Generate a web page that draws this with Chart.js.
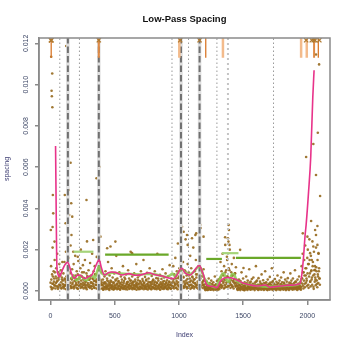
<!DOCTYPE html>
<html><head><meta charset="utf-8">
<script src="https://cdn.jsdelivr.net/npm/chart.js@4.4.1/dist/chart.umd.min.js"></script>
<style>html,body{margin:0;padding:0;background:#fff}</style>
</head><body><canvas id="c" width="350" height="350"></canvas>
<script>
// ---------- data (spacing values in units of 1e-5) ----------
const UNIT = 1e-5;
const X_MIN = -90, X_MAX = 2177, Y_MIN = -0.00044, Y_MAX = 0.01226;
const xTicks = [0, 500, 1000, 1500, 2000];
const yTicks = [0, 0.002, 0.004, 0.006, 0.008, 0.010, 0.012];
const bandStep = 4;      // index spacing of the band values
const bandOffsetB = 2;   // second band series sits between the first
const bandValues = [
40,120,15,80,210,35,95,60,150,25,70,110,45,180,20,90,55,130,30,75,100,12,65,140,50,
85,20,140,55,30,190,70,10,115,45,160,35,90,25,220,60,15,105,40,75,130,20,65,170,50,30,95,12,80,145,40,60,25,110,200,35,70,18,125,55,90,28,150,45,15,85,240,30,65,100,20,55,135,40,75,22,180,60,35,95,15,120,50,80,30,165,45,10,105,70,25,140,55,90,35,
30,12,55,8,40,70,20,95,35,15,60,25,140,45,10,75,30,50,18,110,
22,65,40,8,85,28,15,50,170,35,60,12,45,25,90,38,10,70,20,55,
30,120,15,48,65,25,8,80,35,42,18,100,28,60,12,50,190,22,38,70,
15,45,30,85,10,55,25,130,40,18,65,32,8,75,48,20,95,35,12,58,
28,150,40,15,68,22,50,10,88,35,25,60,18,110,42,30,8,72,45,20,
55,15,38,95,28,12,62,40,180,22,50,30,10,78,35,18,58,26,105,45,
14,65,32,20,85,40,10,52,28,70,18,44,125,30,12,60,36,22,
45,120,20,80,35,160,60,15,95,40,230,25,70,110,30,55,190,12,85,45,
140,65,20,100,35,250,50,75,18,130,40,90,25,60,170,30,110,15,70,45,
210,55,20,95,38,150,65,28,80,12,120,48,35,180,60,22,90,40,70,30,105,50,
20,8,35,12,45,5,28,15,60,10,38,22,6,50,18,30,9,42,25,12,70,15,32,8,48,20,10,55,25,40,
60,140,30,95,20,180,75,45,120,15,260,55,100,35,150,70,25,110,45,200,60,30,90,130,20,75,50,160,40,85,25,115,55,
25,8,40,15,55,30,10,48,20,90,35,12,60,22,5,42,28,15,70,38,
10,50,25,18,105,32,8,45,20,58,14,35,65,22,10,40,28,120,15,50,
30,8,62,25,18,45,35,12,80,28,20,52,10,38,24,95,15,42,30,6,
55,22,34,12,68,40,18,28,110,10,48,25,36,15,58,20,8,44,30,75,
14,38,22,50,10,32,65,18,42,26,12,90,35,20,55,8,30,45,16,62,
24,10,40,28,85,18,50,32,12,60,22,38,15,100,30,45,20,10,55,35,
18,70,25,42,12,
40,120,60,180,25,90,150,35,220,75,110,50,160,200,30,130,250,85,45,170,
100,65,240,140,20,190,80,120,55,210,95,35,150,70,180,110,60
];
const bandValuesB = [
20,55,8,35,70,15,45,28,90,12,38,60,22,48,10,65,30,18,80,25,42,14,55,33,20,
30,12,60,25,45,8,38,70,18,52,28,10,85,40,22,15,55,32,65,20,
12,48,26,75,38,16,58,30,10,44,24,68,35,14,50,20,90,28,40,12,
62,34,18,46,26,8,72,38,20,54,30,14,64,22,42,10,36,58,24,48,
16,80,30,44,12,56,26,38,20,66,34,10,50,28,42,
12,28,6,20,35,15,42,8,25,18,50,10,32,22,5,38,14,26,45,9,
30,18,7,40,22,12,55,16,28,8,35,20,48,11,24,6,32,18,42,14,
26,9,38,20,12,58,24,15,34,7,44,19,28,10,36,22,50,13,30,8,
40,16,25,11,46,20,33,6,27,15,52,12,36,21,9,42,18,30,14,48,
24,8,38,17,28,11,55,20,32,7,44,15,26,12,40,22,9,34,18,50,
14,30,10,45,20,26,8,38,16,60,12,28,22,6,42,18,32,11,36,24,
9,48,15,30,20,40,12,26,8,34,18,44,14,28,10,38,22,16,
20,55,12,40,28,70,15,48,32,8,62,25,42,18,85,30,10,52,36,22,
68,14,45,28,95,20,38,12,58,33,16,75,26,44,10,50,30,18,65,24,
40,12,56,35,20,80,28,15,46,38,10,60,22,34,18,72,26,42,14,50,30,20,
10,4,18,7,25,12,5,20,9,30,14,6,22,10,35,8,16,4,26,12,18,6,28,10,15,5,24,12,8,20,
30,65,15,48,25,80,38,12,55,28,90,20,42,70,18,35,60,25,100,40,15,52,30,75,22,45,12,58,35,85,20,40,28,
12,5,20,8,28,15,4,22,10,35,18,6,26,12,3,20,14,8,32,16,
5,24,11,18,40,14,6,22,10,30,8,17,28,12,4,20,15,45,9,25,
14,5,30,12,8,22,18,6,35,14,10,26,5,19,12,38,8,21,15,4,
28,11,17,6,32,20,9,14,42,5,24,12,18,8,30,10,4,22,15,36,
7,19,11,25,5,16,32,9,21,13,6,40,17,10,27,4,15,22,8,30,
12,5,20,14,38,9,25,16,6,30,11,19,8,44,15,22,10,5,27,17,
9,34,12,21,6,
20,60,35,90,12,50,75,18,110,40,60,25,85,130,15,70,150,45,22,95,55,30,120,75,10,100,45,65,28,115,50,18,80,38,95,60,30
];
const outlierIdx = [5,13,8,10,14,18,21,16,2,31,122,111,142,161,169,145,117,163,156,280,
358,381,332,389,177,212,441,505,467,635,1024,1037,1063,1068,1128,1166,1170,1192,1102,1135,
1361,1386,1374,1387,1390,1382,1394,1477,1503,1965,2001,2061,2079,2068,2079,2047,2022,2087,2035,2061,
2068,2092,2082,2047,1991,2100,2030,2068];
const outlierVal = [1135,1054,970,944,890,465,376,310,295,239,1187,465,489,425,360,368,328,271,621,441,
546,602,247,263,190,166,207,239,215,183,311,287,271,223,271,320,305,263,255,279,
223,239,166,320,295,255,223,199,111,279,263,295,315,271,223,215,183,183,150,102,
1146,1098,767,712,649,460,339,562];
// smoothed (pink) curve
const smoothIdx = [39,43,47,50,56,68,80,95,110,132,148,160,175,187,205,231,250,270,295,321,345,365,379,395,420,450,474,505,558,609,661,713,764,816,869,920,959,985,1005,1024,1040,1050,1089,1114,1140,1161,1178,1192,1205,1218,1245,1270,1296,1310,1322,1348,1375,1400,1425,1452,1480,1503,1550,1607,1640,1672,1711,1750,1790,1827,1865,1905,1930,1944,1957,1970,1983,1991,2010,2027,2043,2053];
const smoothVal = [702,450,200,110,85,69,82,105,125,139,118,90,68,61,74,77,66,61,70,77,110,140,150,115,77,88,92,90,77,84,76,79,88,78,72,63,60,77,100,110,95,86,77,93,115,123,100,77,45,29,23,21,16,28,45,61,65,64,60,53,44,37,30,24,26,29,18,21,24,26,28,29,33,37,77,158,270,320,480,650,940,1070];
// secondary (green) smooth
const altIdx = [160,180,200,220,240,262,285,305,325,345,360,380,400,430,480,530,600,700,800,900,930,950,970,1000,1024,1060,1100,1160,1200,1250,1290,1310,1330,1350,1370,1390,1410,1430,1450,1480,1550,1600,1650,1700,1800,1900,1940,1955];
const altVal = [60,72,52,60,74,56,52,70,74,62,90,120,85,80,88,85,82,80,82,68,75,85,70,95,105,85,85,118,60,25,20,45,75,85,55,45,78,80,50,40,30,25,22,20,24,27,35,60];
// level segments
const levelDarkStart = [425,1213,1444], levelDarkEnd = [920,1335,1950], levelDarkVal = [176,155,160];
const levelLightStart = [179,1335], levelLightEnd = [334,1464], levelLightVal = [190,183];
// vertical markers
const dashedIdx = [135,376,1016,1161];
const dottedIdx = [72,225,946,1075,1296,1737];
const dottedLightIdx = [1382];
// out-of-range arrows and crosses
const ARROW_END = 0.0113;
const arrowDarkIdx = [5,1209,2086];
const arrowMidIdx = [376,2053];
const arrowLightIdx = [1003,1343,1952,1996];
const CROSS_VAL = 0.01215;
const crossIdx = [3,5,7,376,1010,1161,1991,2035,2050,2061,2094];

// ---------- build datasets ----------
const pts = bandValues.map((v,i)=>({x:i*bandStep, y:v*UNIT}))
  .concat(bandValuesB.map((v,i)=>({x:i*bandStep+bandOffsetB, y:v*UNIT})))
  .concat(outlierIdx.map((x,i)=>({x, y:outlierVal[i]*UNIT})));
const datasets = [];
datasets.push({type:'scatter', data:pts, pointRadius:1.3, pointBorderWidth:0,
  pointBackgroundColor:'rgba(150,105,30,0.9)', order:20});
function vline(idx, color, width, dash, halo){
  if (halo) datasets.push({type:'line', data:[{x:idx,y:Y_MIN},{x:idx,y:Y_MAX}], borderColor:halo,
    borderWidth:width+1.5, pointRadius:0, order:16});
  datasets.push({type:'line', data:[{x:idx,y:Y_MIN},{x:idx,y:Y_MAX}], borderColor:color,
    borderWidth:width, borderDash:dash, pointRadius:0, order:15});
}
dottedIdx.forEach(i=>vline(i,'#9a9a9a',1,[1.5,2.5]));
dottedLightIdx.forEach(i=>vline(i,'#c4c4c4',2,[2,3]));
dashedIdx.forEach(i=>vline(i,'#707070',2,[6.5,3],'#dedede'));
datasets.push({type:'line', data:altIdx.map((x,i)=>({x,y:altVal[i]*UNIT})), borderColor:'rgba(140,200,80,0.85)',
  borderWidth:2.5, pointRadius:0, tension:0.4, order:8});
datasets.push({type:'line', data:smoothIdx.map((x,i)=>({x,y:smoothVal[i]*UNIT})), borderColor:'#e8338a',
  borderWidth:1.6, pointRadius:0, tension:0.4, cubicInterpolationMode:'monotone', order:6});
function hseg(a,b,v,color){
  datasets.push({type:'line', data:[{x:a,y:v*UNIT},{x:b,y:v*UNIT}], borderColor:color, borderWidth:2.2, pointRadius:0, order:5});
}
levelDarkStart.forEach((a,i)=>hseg(a,levelDarkEnd[i],levelDarkVal[i],'#6aa829'));
levelLightStart.forEach((a,i)=>hseg(a,levelLightEnd[i],levelLightVal[i],'#a6d47a'));
function arrow(idx,color,width){
  datasets.push({type:'line', data:[{x:idx,y:Y_MAX},{x:idx,y:ARROW_END}], borderColor:color, borderWidth:width, pointRadius:0, order:4});
}
arrowDarkIdx.forEach(i=>arrow(i,'#d9782a',1.3));
arrowMidIdx.forEach(i=>arrow(i,'#e08a45',2));
arrowLightIdx.forEach(i=>arrow(i,'#f3bb8c',2.5));
datasets.push({type:'scatter', data:crossIdx.map(x=>({x,y:CROSS_VAL})), pointStyle:'crossRot', pointRadius:3,
  pointBorderWidth:1.3, pointBorderColor:'#b07a30', order:2});

const frame = {id:'frame', afterDraw(chart){
  const {ctx, chartArea:a} = chart;
  ctx.save(); ctx.strokeStyle='#8a8a8a'; ctx.lineWidth=1.5;
  ctx.strokeRect(a.left, a.top, a.right-a.left, a.bottom-a.top); ctx.restore();
}};

const FONT = "'Liberation Sans', Arial, sans-serif";
const AX = '#8a8a8a', LAB = '#3d4766';
new Chart(document.getElementById('c'), {
  data:{datasets},
  options:{
    responsive:false, devicePixelRatio:1, animation:false,
    layout:{padding:{left:0,right:20,top:0,bottom:0}},
    plugins:{legend:{display:false}, tooltip:{enabled:false},
      title:{display:true, text:'Low-Pass Spacing', color:'#111', fullSize:false,
        font:{family:FONT, size:9.5, weight:'bold'}, padding:{top:13.6,bottom:13}}},
    scales:{
      x:{type:'linear', min:X_MIN, max:X_MAX,
        afterBuildTicks:s=>{s.ticks=xTicks.map(v=>({value:v}));},
        afterFit:s=>{s.height=50;},
        ticks:{color:LAB, font:{family:FONT,size:7}, padding:6.5, maxRotation:0, autoSkip:false, callback:v=>String(v)},
        grid:{display:true, drawOnChartArea:false, drawTicks:true, tickLength:5, color:AX, lineWidth:1.5},
        border:{display:true, color:AX, width:1.5},
        title:{display:true, text:'Index', color:'#3a3a70', font:{family:FONT,size:7}, padding:{top:0,bottom:10.8}}},
      y:{type:'linear', min:Y_MIN, max:Y_MAX,
        afterBuildTicks:s=>{s.ticks=yTicks.map(v=>({value:v}));},
        afterFit:s=>{s.width=39;},
        ticks:{color:LAB, font:{family:FONT,size:7}, padding:0, minRotation:90, maxRotation:90, crossAlign:'center',
          autoSkip:false, callback:v=>v.toFixed(3)},
        grid:{display:true, drawOnChartArea:false, drawTicks:true, tickLength:4, color:AX, lineWidth:1.5},
        border:{display:true, color:AX, width:1.5},
        title:{display:true, text:'spacing', color:'#3a3a70', font:{family:FONT,size:7}, padding:{top:2.8,bottom:0}}}
    }
  },
  plugins:[frame]
});
</script></body></html>
